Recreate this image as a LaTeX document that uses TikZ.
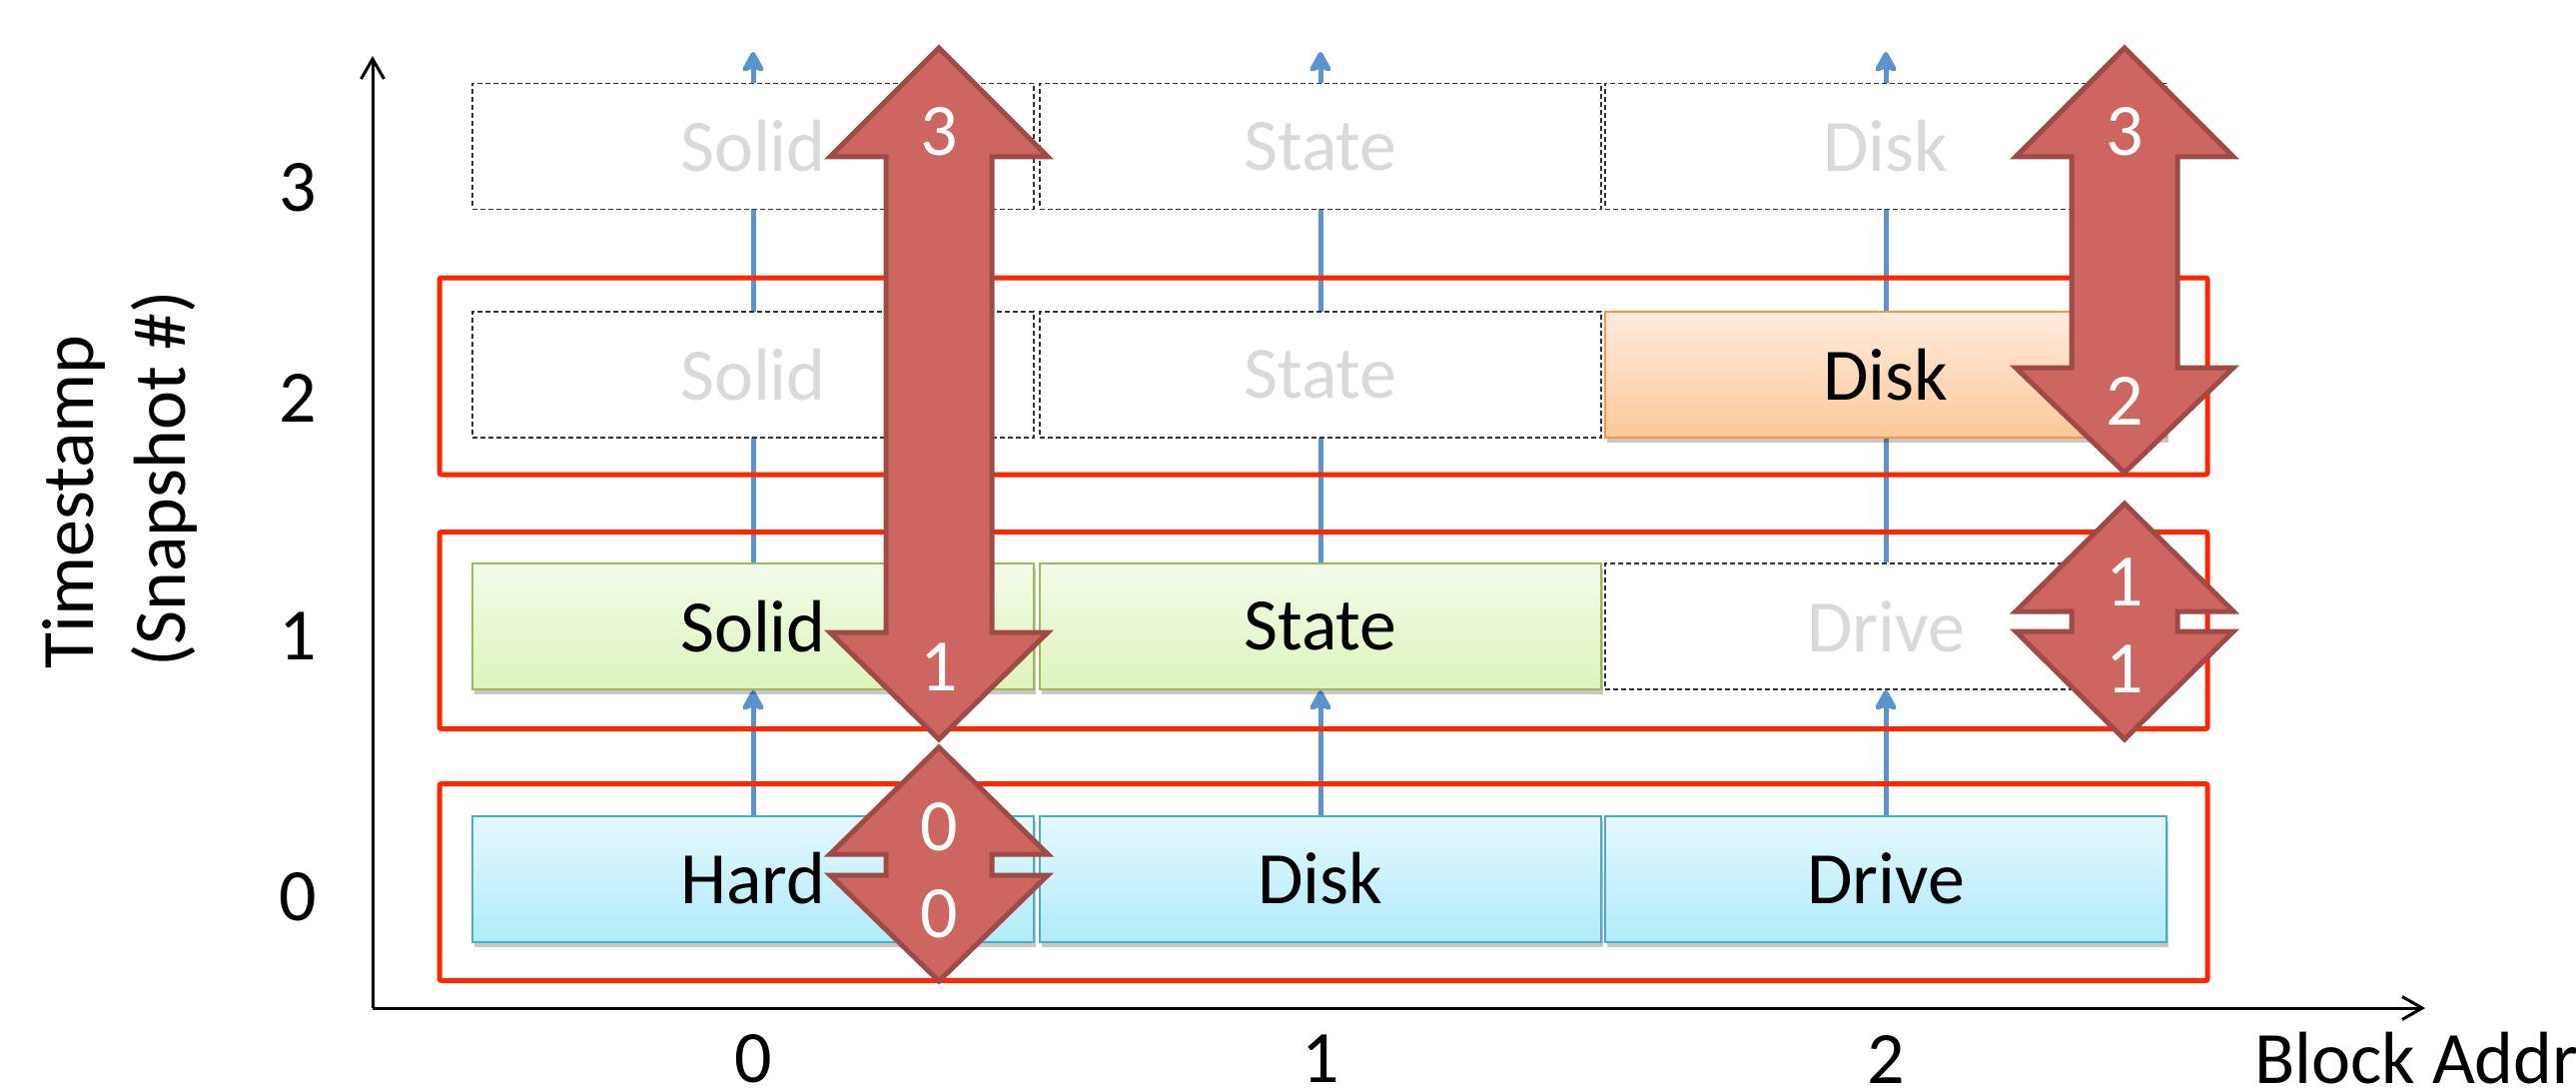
\documentclass[tikz,border=0pt]{standalone}
\usepackage{fontspec}
\setmainfont{Carlito}
\usetikzlibrary{arrows.meta,shadows,backgrounds}
\definecolor{redline}{RGB}{255,38,0}
\definecolor{arrfill}{RGB}{205,102,96}
\definecolor{arrdraw}{RGB}{158,74,70}
\definecolor{bluearr}{RGB}{91,147,205}
\definecolor{ghost}{RGB}{217,217,217}
\definecolor{dashgray}{RGB}{50,50,50}
\definecolor{bluetop}{RGB}{229,248,253}
\definecolor{bluebot}{RGB}{176,235,250}
\definecolor{blueedge}{RGB}{75,172,198}
\definecolor{greentop}{RGB}{243,251,233}
\definecolor{greenbot}{RGB}{221,244,188}
\definecolor{greenedge}{RGB}{155,187,89}
\definecolor{orangetop}{RGB}{254,236,222}
\definecolor{orangebot}{RGB}{251,200,152}
\definecolor{orangeedge}{RGB}{247,150,70}
\newcommand{\bigdarrow}[5]{%
  \draw[bigarr] (#1,#2) -- ({#1+109},#3) -- ({#1+53},#3) -- ({#1+53},#4) -- ({#1+109},#4) -- (#1,#5)
    -- ({#1-109},#4) -- ({#1-53},#4) -- ({#1-53},#3) -- ({#1-109},#3) -- cycle;}
\begin{document}
\begin{tikzpicture}[x=1pt,y=-1pt,
  bigfont/.style={font=\fontsize{74}{89}\selectfont},
  cell/.style={bigfont, minimum width=562pt, minimum height=126pt, inner sep=0pt, line width=2pt},
  softshadow/.style={drop shadow={shadow xshift=2pt, shadow yshift=-5pt, opacity=0.22, fill=black}},
  bluebox/.style={cell, draw=blueedge, top color=bluetop, bottom color=bluebot, softshadow},
  greenbox/.style={cell, draw=greenedge, top color=greentop, bottom color=greenbot, softshadow},
  orangebox/.style={cell, draw=orangeedge, top color=orangetop, bottom color=orangebot, softshadow},
  ghostbox/.style={cell, draw=dashgray, line width=1.8pt, dash pattern=on 5pt off 3pt, fill=white, text=ghost},
  redframe/.style={draw=redline, line width=5pt, rounded corners=2pt, inner sep=0pt, minimum width=1770pt, minimum height=197pt},
  bigarr/.style={fill=arrfill, draw=arrdraw, line width=5pt, line join=miter},
  arrlbl/.style={bigfont, text=white, inner sep=0pt},
  blueconn/.style={draw=bluearr, line width=5pt, -{Stealth[length=24pt,width=26pt,inset=5pt,round]}},
  axisline/.style={line width=3pt, -{Straight Barb[length=20pt,width=23pt]}},
  ticklbl/.style={bigfont, inner sep=0pt}
]
\useasboundingbox (0,0) rectangle (2579,1091);

% red frames
\node[redframe] (f2) at (1325,376.5) {};
\node[redframe] (f1) at (1325,631) {};
\node[redframe] (f0) at (1325,883) {};

% row 3 (ghost)
\node[ghostbox] (r3c0) at (754,146.5) {Solid};
\node[ghostbox] (r3c1) at (1322,146.5) {State};
\node[ghostbox] (r3c2) at (1888,146.5) {Disk};
% row 2
\node[ghostbox] (r2c0) at (754,375) {Solid};
\node[ghostbox] (r2c1) at (1322,375) {State};
\node[orangebox] (r2c2) at (1888,375) {Disk};
% row 1
\node[greenbox] (r1c0) at (754,627) {Solid};
\node[greenbox] (r1c1) at (1322,627) {State};
\node[ghostbox] (r1c2) at (1888,627) {Drive};
% row 0
\node[bluebox] (r0c0) at (754,879.5) {Hard};
\node[bluebox] (r0c1) at (1322,879.5) {Disk};
\node[bluebox] (r0c2) at (1888,879.5) {Drive};

\coordinate (tip0) at (754,52);
\coordinate (tip1) at (1322,52);
\coordinate (tip2) at (1888,52);

\begin{scope}[on background layer]
  \foreach \c in {0,1,2} {
    \draw[blueconn] (r0c\c.north) -- (r1c\c.south);
    \draw[blueconn] (r1c\c.north) -- (tip\c);
  }
\end{scope}

% axes
\coordinate (origin) at (373,1009);
\coordinate (ytop) at (373,56);
\coordinate (xend) at (2428,1009);
\draw[axisline] (origin) -- (ytop);
\draw[axisline] (origin) -- (xend);

% axis labels
\node[ticklbl] (y3) at (298,188) {3};
\node[ticklbl] (y2) at (298,398) {2};
\node[ticklbl] (y1) at (298,637) {1};
\node[ticklbl] (y0) at (298,898) {0};
\node[ticklbl] (x0) at (754,1060) {0};
\node[ticklbl] (x1) at (1322,1060) {1};
\node[ticklbl] (x2) at (1888,1060) {2};
\node[ticklbl, anchor=base west] (xtitle) at (2257,1084) {Block Addr};
\node[ticklbl, rotate=90, anchor=base west] (ytitleA) at (93,670) {Timestamp};
\node[ticklbl, rotate=90, anchor=base west] (ytitleB) at (185,668) {(Snapshot \#)};

% big red double arrows
\bigdarrow{940}{48}{157}{633}{740}
\bigdarrow{2127}{48}{157}{368}{473}
\bigdarrow{2127}{504}{612}{632}{740}
\bigdarrow{940}{748}{855}{876}{982}

\node[arrlbl] (a3) at (940,132) {3};
\node[arrlbl] (a1) at (940,668) {1};
\node[arrlbl] (b3) at (2127,132) {3};
\node[arrlbl] (b2) at (2127,401) {2};
\node[arrlbl] (c1) at (2127,583) {1};
\node[arrlbl] (c1b) at (2127,670) {1};
\node[arrlbl] (d0) at (940,828) {0};
\node[arrlbl] (d0b) at (940,915) {0};
\end{tikzpicture}
\end{document}
